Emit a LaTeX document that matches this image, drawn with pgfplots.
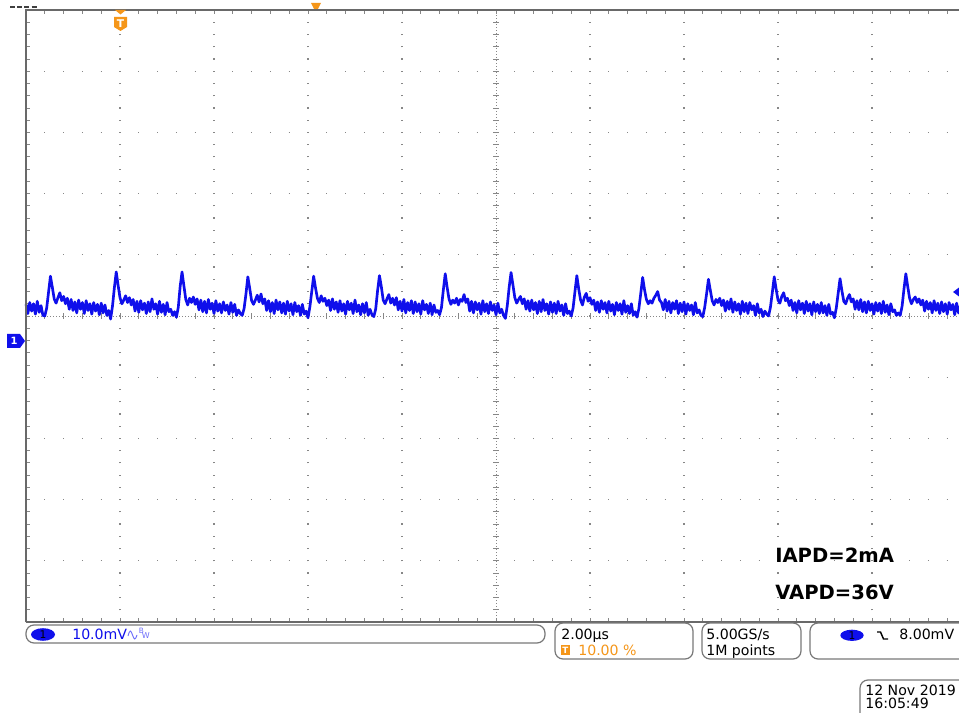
\documentclass[border=0pt]{standalone}
\usepackage{pgfplots}
\pgfplotsset{compat=1.18}
\usepackage{fontspec}
\setmainfont{DejaVu Sans}
\definecolor{trace}{RGB}{15,15,235}
\definecolor{lightch}{RGB}{110,110,250}
\definecolor{trigorange}{RGB}{245,150,25}
\definecolor{dotgray}{RGB}{135,135,135}
\definecolor{framegray}{RGB}{105,105,105}
\definecolor{boxgray}{RGB}{120,120,120}

\begin{document}
\begin{tikzpicture}[x=0.75pt,y=0.75pt]
\fill[white] (0,0) rectangle (959,713);

% centre cross and minor ticks of the graticule (drawn under the trace)
\draw[dotgray, line width=0.7pt, dash pattern=on 0.75pt off 1.5pt] (26,397) -- (966,397);
\draw[dotgray, line width=0.7pt, dash pattern=on 0.75pt off 1.5pt] (496,91) -- (496,703);
\foreach \i in {1,...,49} {
  \draw[dotgray, line width=0.6pt] ({26+18.8*\i},394) -- ({26+18.8*\i},400);
  \draw[dotgray, line width=0.6pt] ({26+18.8*\i},91) -- ({26+18.8*\i},95);
  \draw[dotgray, line width=0.6pt] ({26+18.8*\i},703) -- ({26+18.8*\i},699);
}
\foreach \j in {1,...,49} {
  \draw[dotgray, line width=0.6pt] (493,{91+12.24*\j}) -- (499,{91+12.24*\j});
  \draw[dotgray, line width=0.6pt] (26,{91+12.24*\j}) -- (30,{91+12.24*\j});
}

\begin{axis}[
  at={(19.5pt,68.25pt)}, anchor=south west,
  scale only axis, width=705pt, height=459pt,
  xmin=-2, xmax=18, ymin=-46, ymax=54,
  axis line style={draw=none},
  xtick={0,2,4,6,10,12,14,16},
  ytick={-36,-26,-16,-6,14,24,34,44},
  xticklabels={}, yticklabels={},
  major tick length=0pt,
  xmajorgrids, ymajorgrids,
  x grid style={dotgray, line width=0.9pt, dash pattern=on 0.9pt off 8.28pt, dash phase=0.45pt},
  y grid style={dotgray, line width=0.9pt, dash pattern=on 0.9pt off 13.2pt, dash phase=0.45pt},
  clip=false,
]
% channel 1, time in microseconds, voltage in mV
\addplot[trace, line width=2pt, line join=round] coordinates {
(-2.00,5.9)(-1.96,4.4)(-1.92,6.2)(-1.88,4.8)(-1.84,6.0)(-1.80,4.3)(-1.76,6.4)(-1.72,4.6)(-1.68,5.7)(-1.64,4.1)
(-1.60,4.0)(-1.56,5.3)(-1.52,7.9)(-1.48,10.5)(-1.44,8.7)(-1.40,6.8)(-1.36,6.1)(-1.32,7.0)(-1.28,7.8)(-1.24,6.5)
(-1.20,7.2)(-1.16,6.0)(-1.12,6.9)(-1.08,5.1)(-1.04,6.7)(-1.00,4.9)(-0.96,6.3)(-0.92,4.5)(-0.88,6.6)(-0.84,5.1)
(-0.80,6.2)(-0.76,4.4)(-0.72,6.5)(-0.68,4.9)(-0.64,6.0)(-0.60,4.3)(-0.56,6.2)(-0.52,4.8)(-0.48,5.9)(-0.44,4.2)
(-0.40,6.1)(-0.36,4.5)(-0.32,5.8)(-0.28,4.1)(-0.24,4.9)
(-0.20,3.5)(-0.16,5.6)(-0.12,8.6)(-0.08,11.2)(-0.04,9.0)(0.00,7.0)(0.04,6.0)(0.08,6.6)(0.12,7.3)(0.16,6.2)
(0.20,7.0)(0.24,5.8)(0.28,6.7)(0.32,4.8)(0.36,6.4)(0.40,4.6)(0.44,6.5)(0.48,5.0)(0.52,6.1)(0.56,4.4)
(0.60,6.3)(0.64,4.7)(0.68,6.8)(0.72,5.1)(0.76,6.0)(0.80,4.3)(0.84,6.4)(0.88,4.6)(0.92,5.9)(0.96,4.2)
(1.00,6.2)(1.04,4.7)(1.08,5.1)(1.12,4.1)(1.16,4.7)
(1.20,3.8)(1.24,5.4)(1.28,8.8)(1.32,11.2)(1.36,8.9)(1.40,6.7)(1.44,5.8)(1.48,6.9)(1.52,6.2)(1.56,7.1)
(1.60,5.9)(1.64,6.8)(1.68,5.0)(1.72,6.6)(1.76,4.7)(1.80,6.4)(1.84,4.5)(1.88,6.7)(1.92,5.1)(1.96,6.1)
(2.00,4.4)(2.04,6.5)(2.08,4.8)(2.12,6.0)(2.16,4.5)(2.20,6.3)(2.24,4.9)(2.28,5.8)(2.32,4.3)(2.36,6.2)
(2.40,4.6)(2.44,5.9)(2.48,4.1)(2.52,5.0)(2.56,4.4)
(2.60,4.1)(2.64,5.2)(2.68,7.6)(2.72,10.4)(2.76,8.5)(2.80,6.5)(2.84,5.9)(2.88,6.6)(2.92,7.4)(2.96,6.3)
(3.00,7.6)(3.04,6.0)(3.08,6.8)(3.12,4.9)(3.16,6.5)(3.20,4.7)(3.24,6.2)(3.28,4.4)(3.32,6.6)(3.36,5.0)
(3.40,6.3)(3.44,4.5)(3.48,6.1)(3.52,4.3)(3.56,6.4)(3.60,4.8)(3.64,6.0)(3.68,4.2)(3.72,6.2)(3.76,4.7)
(3.80,5.7)(3.84,4.1)(3.88,5.9)(3.92,4.3)(3.96,4.8)
(4.00,3.7)(4.04,5.5)(4.08,8.0)(4.12,10.5)(4.16,8.6)(4.20,6.9)(4.24,6.2)(4.28,7.3)(4.32,6.4)(4.36,6.9)
(4.40,5.7)(4.44,6.6)(4.48,4.9)(4.52,6.8)(4.56,5.1)(4.60,6.3)(4.64,4.6)(4.68,6.5)(4.72,4.8)(4.76,6.0)
(4.80,4.3)(4.84,6.4)(4.88,5.0)(4.92,6.1)(4.96,4.4)(5.00,6.6)(5.04,4.7)(5.08,5.8)(5.12,4.2)(5.16,6.0)
(5.20,4.5)(5.24,6.2)(5.28,4.1)(5.32,5.1)(5.36,4.2)
(5.40,3.9)(5.44,5.1)(5.48,8.1)(5.52,10.6)(5.56,8.8)(5.60,6.6)(5.64,6.0)(5.68,6.8)(5.72,7.5)(5.76,6.1)
(5.80,6.9)(5.84,5.8)(5.88,7.0)(5.92,5.0)(5.96,6.4)(6.00,4.8)(6.04,6.7)(6.08,4.5)(6.12,6.2)(6.16,4.9)
(6.20,6.5)(6.24,4.4)(6.28,6.3)(6.32,4.7)(6.36,6.0)(6.40,4.3)(6.44,6.5)(6.48,5.0)(6.52,5.9)(6.56,4.4)
(6.60,6.1)(6.64,4.2)(6.68,5.8)(6.72,4.6)(6.76,4.9)
(6.80,4.2)(6.84,5.4)(6.88,8.3)(6.92,10.9)(6.96,8.7)(7.00,6.8)(7.04,5.9)(7.08,6.6)(7.12,6.1)(7.16,6.9)
(7.20,5.8)(7.24,6.7)(7.28,6.4)(7.32,7.5)(7.36,6.2)(7.40,6.8)(7.44,4.8)(7.48,6.4)(7.52,4.5)(7.56,6.3)
(7.60,5.0)(7.64,6.1)(7.68,4.3)(7.72,6.5)(7.76,4.7)(7.80,6.0)(7.84,4.4)(7.88,6.3)(7.92,4.9)(7.96,5.8)
(8.00,4.2)(8.04,6.1)(8.08,4.5)(8.12,5.1)(8.16,4.1)
(8.20,3.6)(8.24,5.7)(8.28,8.7)(8.32,11.1)(8.36,9.1)(8.40,7.0)(8.44,6.1)(8.48,6.7)(8.52,7.2)(8.56,6.0)
(8.60,6.8)(8.64,5.1)(8.68,6.5)(8.72,4.8)(8.76,6.6)(8.80,5.0)(8.84,6.2)(8.88,4.4)(8.92,6.4)(8.96,4.7)
(9.00,6.7)(9.04,4.9)(9.08,6.0)(9.12,4.3)(9.16,6.3)(9.20,4.6)(9.24,6.1)(9.28,4.4)(9.32,6.4)(9.36,4.8)
(9.40,5.8)(9.44,4.1)(9.48,6.0)(9.52,4.4)(9.56,4.8)
(9.60,4.0)(9.64,5.3)(9.68,8.0)(9.72,10.6)(9.76,8.4)(9.80,6.6)(9.84,5.8)(9.88,7.1)(9.92,7.7)(9.96,6.4)
(10.00,7.0)(10.04,5.9)(10.08,6.6)(10.12,4.9)(10.16,6.3)(10.20,4.6)(10.24,6.5)(10.28,5.1)(10.32,6.2)(10.36,4.5)
(10.40,6.4)(10.44,4.8)(10.48,5.9)(10.52,4.2)(10.56,6.2)(10.60,4.9)(10.64,6.0)(10.68,4.3)(10.72,6.5)(10.76,4.6)
(10.80,5.7)(10.84,4.4)(10.88,6.0)(10.92,4.1)(10.96,4.7)
(11.00,3.8)(11.04,5.2)(11.08,7.7)(11.12,10.3)(11.16,8.3)(11.20,6.7)(11.24,6.0)(11.28,6.5)(11.32,6.1)(11.36,6.9)
(11.40,7.4)(11.44,8.0)(11.48,6.6)(11.52,6.2)(11.56,5.0)(11.60,6.7)(11.64,4.8)(11.68,6.4)(11.72,4.5)(11.76,6.2)
(11.80,5.1)(11.84,6.5)(11.88,4.4)(11.92,6.1)(11.96,4.7)(12.00,6.3)(12.04,4.3)(12.08,6.0)(12.12,4.9)(12.16,5.8)
(12.20,4.2)(12.24,6.2)(12.28,4.5)(12.32,5.0)(12.36,4.1)
(12.40,3.9)(12.44,5.4)(12.48,7.6)(12.52,10.0)(12.56,8.2)(12.60,6.5)(12.64,5.8)(12.68,6.7)(12.72,6.2)(12.76,6.9)
(12.80,5.7)(12.84,6.6)(12.88,4.8)(12.92,6.4)(12.96,5.1)(13.00,6.8)(13.04,4.6)(13.08,6.3)(13.12,4.9)(13.16,6.0)
(13.20,4.3)(13.24,6.4)(13.28,4.7)(13.32,6.1)(13.36,4.4)(13.40,6.2)(13.44,5.0)(13.48,5.7)(13.52,4.1)(13.56,6.0)
(13.60,4.5)(13.64,5.1)(13.68,3.9)(13.72,4.8)(13.76,4.3)
(13.80,4.0)(13.84,5.5)(13.88,7.9)(13.92,10.4)(13.96,8.4)(14.00,6.6)(14.04,6.1)(14.08,7.2)(14.12,7.8)(14.16,6.5)
(14.20,6.9)(14.24,5.7)(14.28,6.6)(14.32,4.9)(14.36,6.2)(14.40,4.5)(14.44,6.5)(14.48,5.0)(14.52,6.1)(14.56,4.4)
(14.60,6.4)(14.64,4.8)(14.68,6.0)(14.72,4.2)(14.76,6.3)(14.80,4.7)(14.84,5.9)(14.88,4.4)(14.92,6.2)(14.96,4.5)
(15.00,5.7)(15.04,4.1)(15.08,5.9)(15.12,4.3)(15.16,4.6)
(15.20,3.7)(15.24,5.3)(15.28,7.7)(15.32,10.1)(15.36,8.1)(15.40,6.4)(15.44,6.0)(15.48,6.9)(15.52,7.5)(15.56,6.3)
(15.60,6.8)(15.64,5.1)(15.68,6.5)(15.72,5.0)(15.76,6.7)(15.80,4.7)(15.84,6.3)(15.88,4.5)(15.92,6.4)(15.96,4.9)
(16.00,6.0)(16.04,4.3)(16.08,6.2)(16.12,4.8)(16.16,6.1)(16.20,4.4)(16.24,6.4)(16.28,4.6)(16.32,5.8)(16.36,4.2)
(16.40,6.0)(16.44,4.7)(16.48,5.0)(16.52,4.1)(16.56,4.5)
(16.60,4.1)(16.64,5.6)(16.68,8.4)(16.72,10.9)(16.76,8.8)(16.80,6.9)(16.84,6.0)(16.88,6.7)(16.92,7.1)(16.96,6.2)
(17.00,6.8)(17.04,5.8)(17.08,6.6)(17.12,4.8)(17.16,6.4)(17.20,5.1)(17.24,6.2)(17.28,4.5)(17.32,6.5)(17.36,4.9)
(17.40,6.1)(17.44,4.4)(17.48,6.3)(17.52,4.7)(17.56,6.0)(17.60,4.3)(17.64,6.2)(17.68,5.0)(17.72,5.9)(17.76,4.2)
(17.80,6.1)(17.84,4.5)(17.88,5.7)(17.92,4.3)(17.96,4.9)
(18.00,4.2)
};
\end{axis}

% graticule frame
\draw[framegray, line width=1.5pt] (26,90.5) -- (26,703.5);
\draw[framegray, line width=0.9pt] (26,703) -- (970,703);
\draw[framegray, line width=1.3pt] (26,91) -- (970,91);

% top-left dashes and trigger-position markers
\draw[black!75, line width=1.4pt, dash pattern=on 3.8pt off 1.6pt] (10,706) -- (37,706);
\fill[trigorange] (311,710) -- (321,710) -- (318,704) -- (314,704) -- cycle;
\fill[trigorange] (115,703) -- (126,703) -- (120.5,698.5) -- cycle;
\fill[trigorange] (114,696) -- (127,696) -- (127,686) -- (120.5,682) -- (114,686) -- cycle;
\node[white, font=\fontsize{8}{8}\selectfont\bfseries, inner sep=0] at (120.5,689.5) {T};

% channel 1 ground marker and trigger level marker
\fill[trace] (7,379) -- (20,379) -- (25,372) -- (20,365) -- (7,365) -- cycle;
\node[white, font=\fontsize{7.5}{8}\selectfont\bfseries, inner sep=0] at (14,372) {1};
\fill[trace] (953,421) -- (961,427) -- (961,415) -- cycle;

% annotations
\node[anchor=base west, inner sep=0, font=\fontsize{14.7}{16}\selectfont\bfseries] at (775,150.3) {IAPD=2mA};
\node[anchor=base west, inner sep=0, font=\fontsize{14.7}{16}\selectfont\bfseries] at (775,113) {VAPD=36V};

% status bar
\draw[boxgray, line width=0.9pt, fill=white, rounded corners=6pt] (26,70) rectangle (545,88);
\fill[trace] (43,78.5) ellipse [x radius=12, y radius=6.3];
\node[black, font=\fontsize{8}{8}\selectfont, inner sep=0] at (43,78.5) {1};
\node[trace, anchor=base west, inner sep=0, font=\fontsize{10.6}{12}\selectfont] at (72,73.7) {10.0mV};
\draw[lightch, line width=0.7pt] (128,77) sin (130.3,82) cos (132.5,78) sin (134.8,74) cos (137,78);
\node[lightch, anchor=base west, inner sep=0, font=\fontsize{5.5}{6}\selectfont] at (138.5,79) {B};
\node[lightch, anchor=base west, inner sep=0, font=\fontsize{6}{6}\selectfont] at (141.5,74.5) {W};

\draw[boxgray, line width=0.9pt, rounded corners=6pt] (555,54) rectangle (693,90);
\node[black, anchor=base west, inner sep=0, font=\fontsize{10.6}{12}\selectfont] at (561,73.7) {2.00µs};
\fill[trigorange] (561,57.5) rectangle (569.5,68);
\node[white, font=\fontsize{6.5}{7}\selectfont\bfseries, inner sep=0] at (565.2,62.8) {T};
\node[trigorange, anchor=base west, inner sep=0, font=\fontsize{10.6}{12}\selectfont] at (578,57.3) {10.00 \%};

\draw[boxgray, line width=0.9pt, rounded corners=6pt] (702,54) rectangle (801,90);
\node[black, anchor=base west, inner sep=0, font=\fontsize{10.6}{12}\selectfont] at (706,73.7) {5.00GS/s};
\node[black, anchor=base west, inner sep=0, font=\fontsize{10.6}{12}\selectfont] at (706,57.3) {1M points};

\draw[boxgray, line width=0.9pt, rounded corners=6pt] (810,54) rectangle (985,90);
\fill[trace] (852,77.7) ellipse [x radius=11.7, y radius=5.6];
\node[black, font=\fontsize{8}{8}\selectfont, inner sep=0] at (852,77.7) {1};
\draw[black, line width=1.1pt] (877,81) -- (880.5,81) -- (883.5,74) -- (888,74);
\node[black, anchor=base west, inner sep=0, font=\fontsize{10.6}{12}\selectfont] at (899,73.7) {8.00mV};

\draw[boxgray, line width=0.9pt, rounded corners=6pt] (860,-10) rectangle (985,33);
\node[black, anchor=base west, inner sep=0, font=\fontsize{10.6}{12}\selectfont] at (865,17) {12 Nov 2019};
\node[black, anchor=base west, inner sep=0, font=\fontsize{10.6}{12}\selectfont] at (865,4) {16:05:49};

\pgfresetboundingbox
\useasboundingbox (0,0) rectangle (959,713);
\end{tikzpicture}
\end{document}
